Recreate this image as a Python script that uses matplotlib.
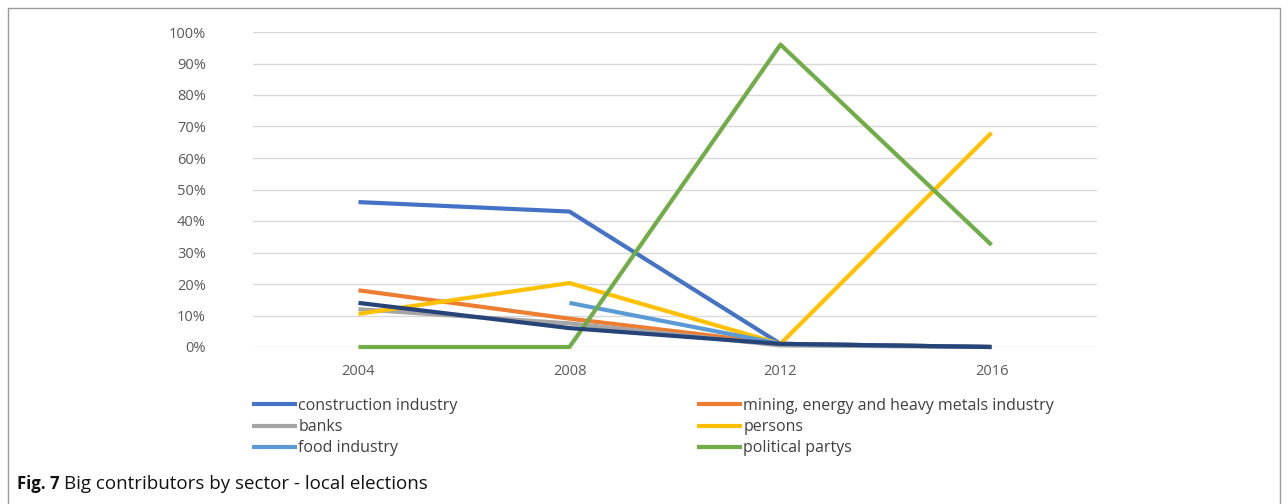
import matplotlib
matplotlib.use("Agg")
import matplotlib.pyplot as plt
from matplotlib.patches import Rectangle
from matplotlib.ticker import PercentFormatter
import numpy as np

years = ["2004", "2008", "2012", "2016"]
construction = [0.46, 0.43, 0.01, 0.0]
mining = [0.18, 0.09, 0.01, 0.0]
banks = [0.12, 0.075, 0.005, 0.0]
persons = [0.105, 0.203, 0.01, 0.68]
food = [np.nan, 0.14, 0.01, 0.0]
political = [0.0, 0.0, 0.96, 0.324]
other = [0.14, 0.06, 0.01, 0.0]

series = [
    ("construction industry", construction, "#4472C4"),
    ("mining, energy and heavy metals industry", mining, "#ED7D31"),
    ("banks", banks, "#A5A5A5"),
    ("persons", persons, "#FFC000"),
    ("food industry", food, "#5B9BD5"),
    ("political partys", political, "#70AD47"),
]

W, H = 1288, 504
fig = plt.figure(figsize=(W / 100, H / 100), dpi=100)
fig.patch.set_facecolor("white")

# frame around the figure
fig.patches.append(Rectangle((8 / W, -0.1), (1280 - 8) / W, (504 - 8) / H + 0.1,
                             transform=fig.transFigure, fill=False,
                             edgecolor="#9a9a9a", linewidth=1.0))

ax = fig.add_axes([253 / W, 1 - 347 / H, 844 / W, 315 / H])
x = np.arange(len(years))
handles = []
for name, vals, col in series:
    h, = ax.plot(x, vals, color=col, linewidth=3.0, label=name,
                 solid_capstyle="butt", clip_on=False)
    handles.append(h)
ax.plot(x, other, color="#264478", linewidth=3.0, solid_capstyle="butt", clip_on=False)

ax.set_xlim(-0.5, 3.5)
ax.set_ylim(0, 1.0)
ax.set_yticks(np.arange(0, 1.01, 0.1))
ax.yaxis.set_major_formatter(PercentFormatter(1.0, decimals=0))
ax.set_xticks(x)
ax.set_xticklabels(years)
ax.grid(axis="y", color="#D9D9D9", linewidth=1.0)
ax.set_axisbelow(True)
for s in ax.spines.values():
    s.set_visible(False)
ax.tick_params(axis="both", length=0, colors="#595959", labelsize=10.5)
ax.tick_params(axis="y", pad=34)
ax.tick_params(axis="x", pad=12)
for lab in ax.get_xticklabels() + ax.get_yticklabels():
    lab.set_fontfamily("Open Sans")

leg_kw = dict(frameon=False, handlelength=2.8, handletextpad=0.1, labelspacing=0.32,
              prop={"family": "Open Sans", "size": 11.5}, labelcolor="#404040",
              loc="upper left", borderaxespad=0, borderpad=0)
leg1 = fig.legend([handles[0], handles[2], handles[4]],
                  [series[0][0], series[2][0], series[4][0]],
                  bbox_to_anchor=(252 / W, 1 - 398 / H), **leg_kw)
leg2 = fig.legend([handles[1], handles[3], handles[5]],
                  [series[1][0], series[3][0], series[5][0]],
                  bbox_to_anchor=(697 / W, 1 - 398 / H), **leg_kw)

fig.text(17 / W, 1 - 484 / H, "Fig. 7", fontsize=12, fontweight="bold",
         family="Open Sans", va="center", ha="left", color="#111111")
fig.text(64 / W, 1 - 484 / H, "Big contributors by sector - local elections", fontsize=13.5,
         family="Open Sans", va="center", ha="left", color="#111111")

fig.savefig("out.png", dpi=100)
